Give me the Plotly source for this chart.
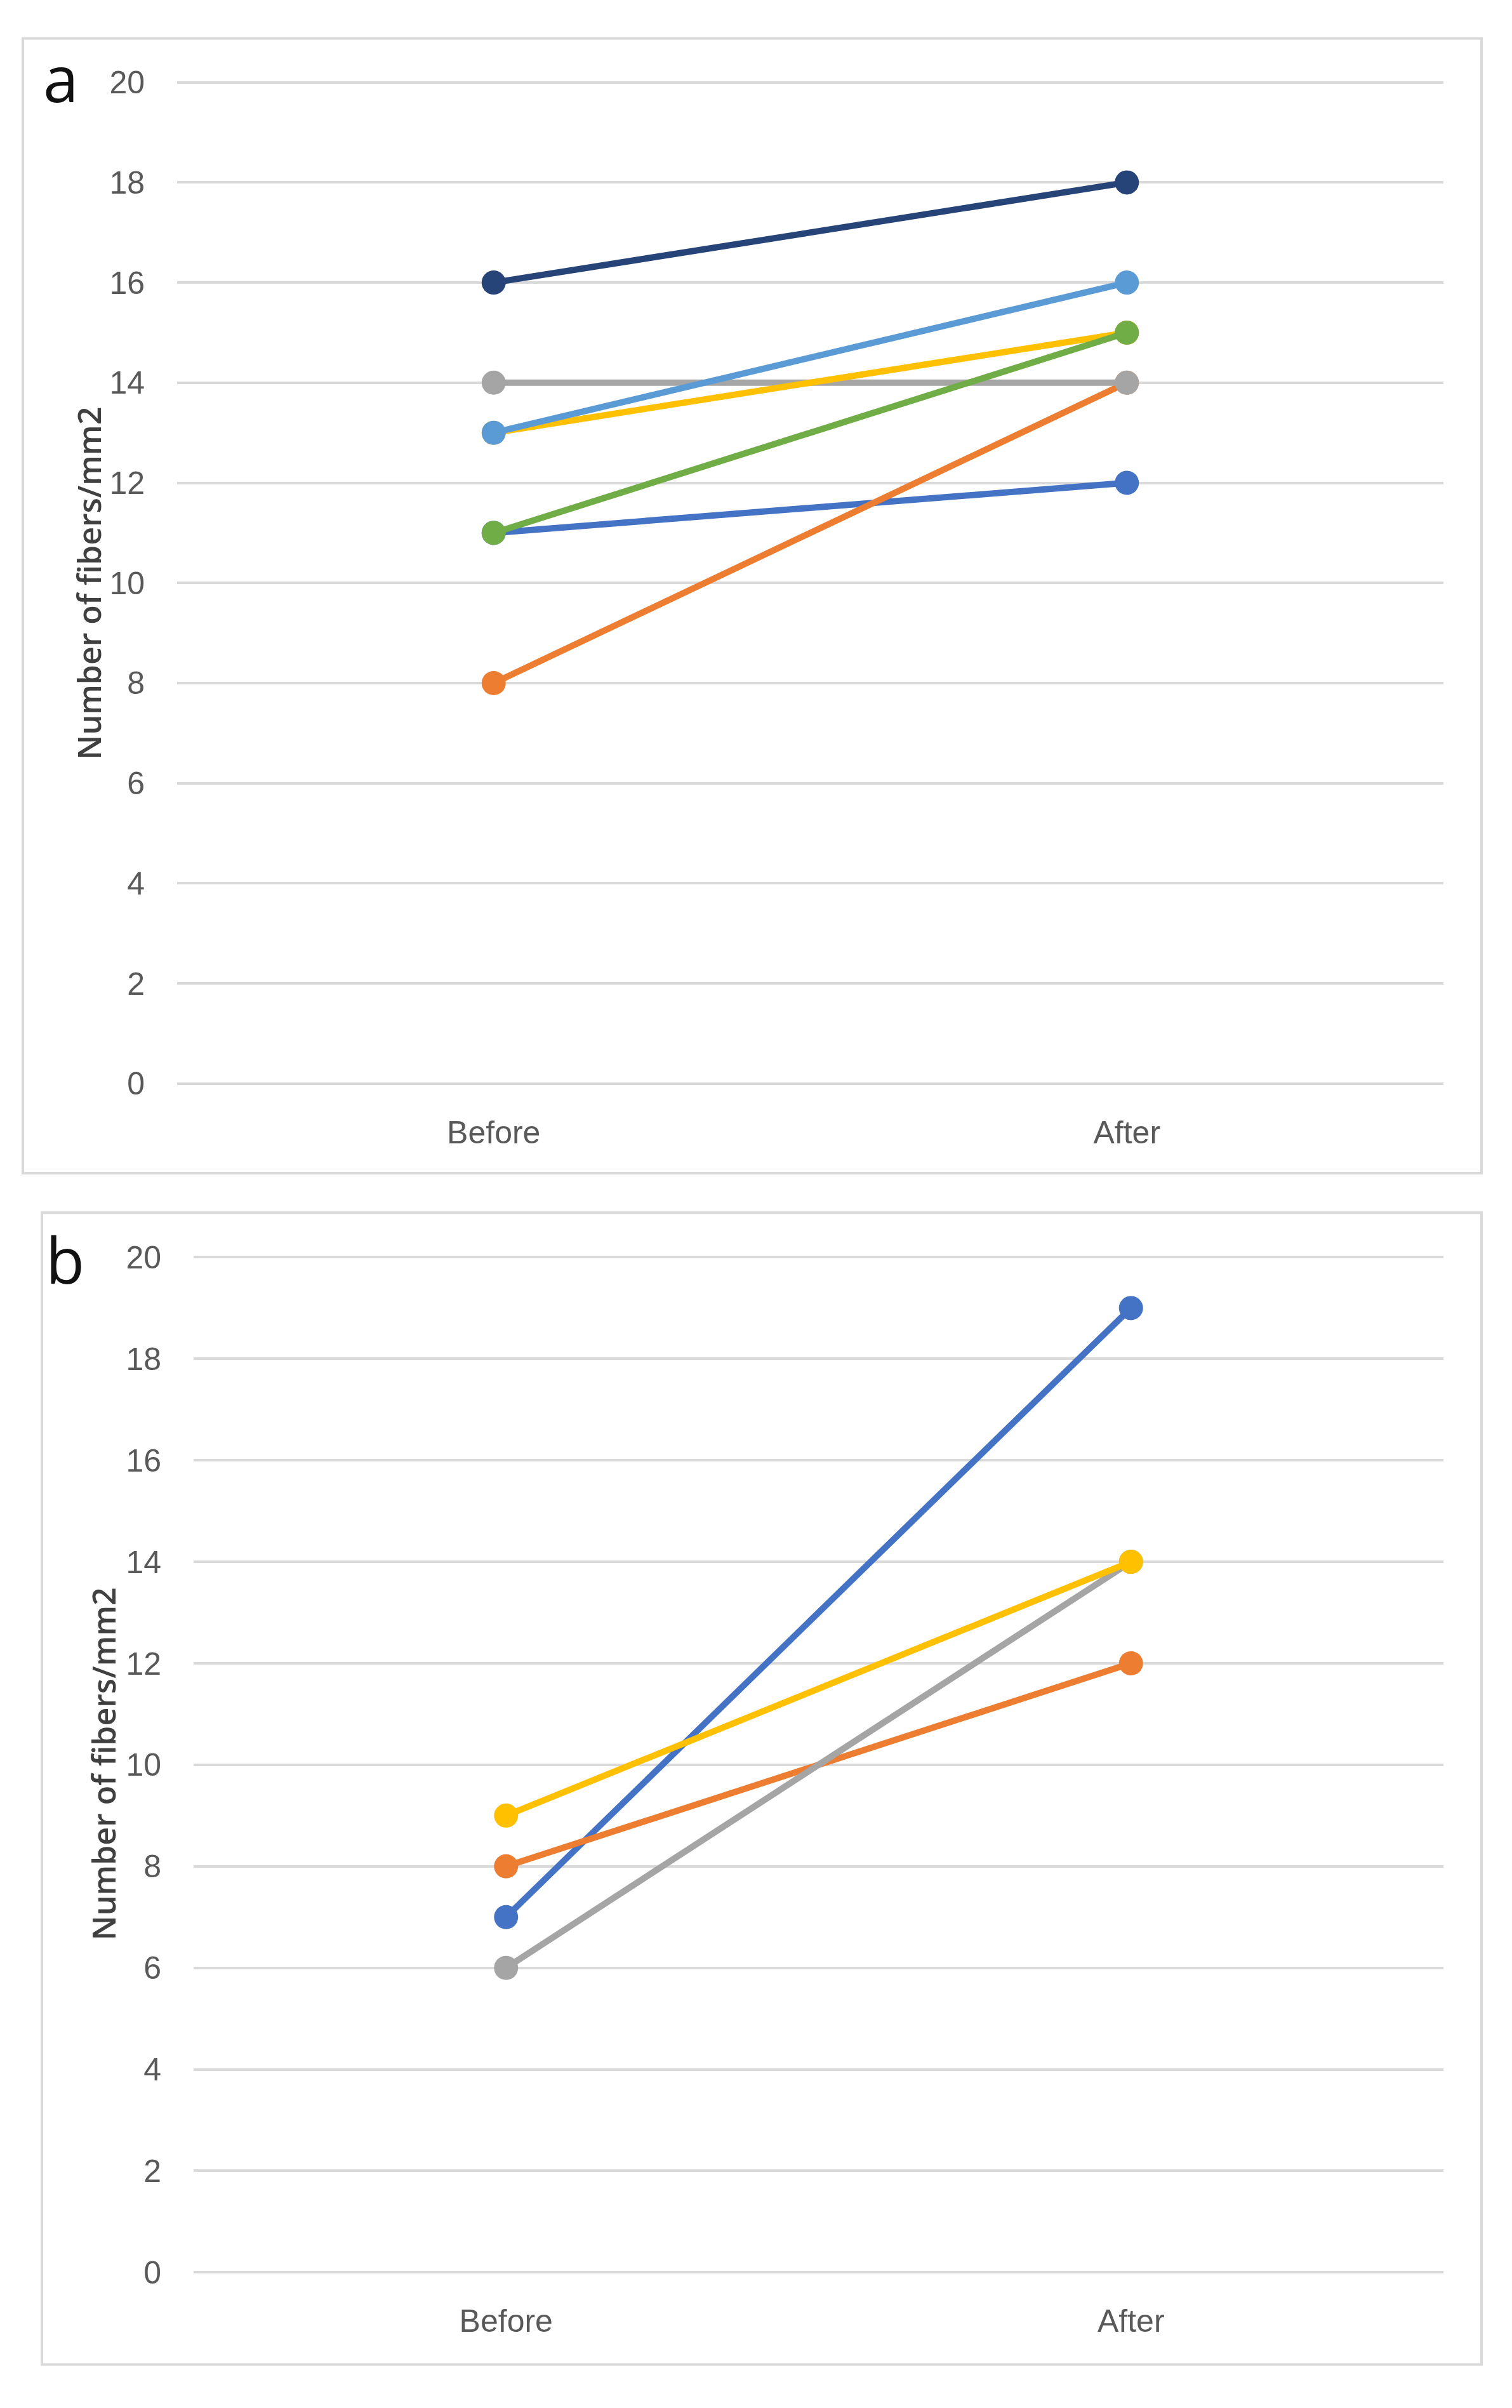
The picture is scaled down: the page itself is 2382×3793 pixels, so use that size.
import plotly.graph_objects as go

# ---------------- data ----------------
categories = ["Before", "After"]

subjects_a = ["Subject 1", "Subject 2", "Subject 3", "Subject 4", "Subject 5", "Subject 6", "Subject 7"]
before_a = [11, 8, 14, 13, 13, 11, 16]
after_a = [12, 14, 14, 15, 16, 15, 18]
colors_a = ["#4472C4", "#ED7D31", "#A5A5A5", "#FFC000", "#5B9BD5", "#70AD47", "#264478"]

subjects_b = ["Subject 1", "Subject 2", "Subject 3", "Subject 4"]
before_b = [7, 8, 6, 9]
after_b = [19, 12, 14, 14]
colors_b = ["#4472C4", "#ED7D31", "#A5A5A5", "#FFC000"]

y_ticks = [0, 2, 4, 6, 8, 10, 12, 14, 16, 18, 20]
y_title = "Number of fibers/mm2"
panel_labels = ["a", "b"]

# ---------------- layout geometry ----------------
W, H = 2382, 3793
EPS = 0.06  # small range padding so the 0 and 20 gridlines are drawn


def px_x(x):
    return x / W


def px_y(y):
    return 1 - y / H


fig = go.Figure()

for name, b, a, c in zip(subjects_a, before_a, after_a, colors_a):
    fig.add_trace(go.Scatter(
        x=categories, y=[b, a], mode="lines+markers", name=name,
        line=dict(color=c, width=10), marker=dict(color=c, size=38),
        xaxis="x", yaxis="y", showlegend=False))

for name, b, a, c in zip(subjects_b, before_b, after_b, colors_b):
    fig.add_trace(go.Scatter(
        x=categories, y=[b, a], mode="lines+markers", name=name,
        line=dict(color=c, width=10), marker=dict(color=c, size=38),
        xaxis="x2", yaxis="y2", showlegend=False))

tick_font = dict(family="Liberation Sans, Arial, sans-serif", size=50, color="#595959")

xaxis_common = dict(type="category", range=[-0.5, 1.5], showgrid=False, zeroline=False,
                    showline=False, ticks="outside", ticklen=28, tickcolor="rgba(0,0,0,0)",
                    tickfont=tick_font, fixedrange=True)
yaxis_common = dict(range=[-EPS, 20 + EPS], tickvals=y_ticks, showgrid=True, gridcolor="#D9D9D9",
                    gridwidth=4, zeroline=False, showline=False, ticks="outside", ticklen=40,
                    tickcolor="rgba(0,0,0,0)", tickfont=tick_font, fixedrange=True)

# pixel padding equivalent of EPS
pad_a = EPS * (1705 - 108) / 20
pad_b = EPS * (3601 - 1982) / 20

fig.update_layout(
    width=W, height=H,
    margin=dict(l=0, r=0, t=0, b=0),
    paper_bgcolor="white", plot_bgcolor="white",
    xaxis=dict(domain=[px_x(279), px_x(2274)], anchor="y", **xaxis_common),
    yaxis=dict(domain=[px_y(1705 + pad_a), px_y(108 - pad_a)], anchor="x", **yaxis_common),
    xaxis2=dict(domain=[px_x(305), px_x(2274)], anchor="y2", **xaxis_common),
    yaxis2=dict(domain=[px_y(3601 + pad_b), px_y(1982 - pad_b)], anchor="x2", **yaxis_common),
)

# panel frames
fig.add_shape(type="rect", xref="paper", yref="paper",
              x0=px_x(36), x1=px_x(2334), y0=px_y(1848), y1=px_y(38),
              line=dict(color="#D9D9D9", width=4), fillcolor="rgba(0,0,0,0)", layer="below")
fig.add_shape(type="rect", xref="paper", yref="paper",
              x0=px_x(66), x1=px_x(2334), y0=px_y(3748), y1=px_y(1911),
              line=dict(color="#D9D9D9", width=4), fillcolor="rgba(0,0,0,0)", layer="below")

title_font = dict(family="Open Sans, Liberation Sans, Arial, sans-serif", size=50,
                  color="#404040", weight=600)
# y-axis titles
fig.add_annotation(text=y_title, xref="paper", yref="paper",
                   x=px_x(140), y=px_y(907), textangle=-90, showarrow=False,
                   font=title_font, xanchor="center", yanchor="middle")
fig.add_annotation(text=y_title, xref="paper", yref="paper",
                   x=px_x(163), y=px_y(2790), textangle=-90, showarrow=False,
                   font=title_font, xanchor="center", yanchor="middle")

# panel letters
label_font = dict(family="Open Sans, Liberation Sans, Arial, sans-serif", size=100, color="#111111")
fig.add_annotation(text=panel_labels[0], xref="paper", yref="paper",
                   x=px_x(96), y=px_y(100), showarrow=False, font=label_font,
                   xanchor="center", yanchor="middle")
fig.add_annotation(text=panel_labels[1], xref="paper", yref="paper",
                   x=px_x(102), y=px_y(1985), showarrow=False, font=label_font,
                   xanchor="center", yanchor="middle")

page_fix = (
    "document.documentElement.style.margin='0';"
    "document.body.style.margin='0';"
    "document.body.style.overflow='hidden';"
)

fig.write_html("out.html", config={"displayModeBar": False}, post_script=page_fix)
